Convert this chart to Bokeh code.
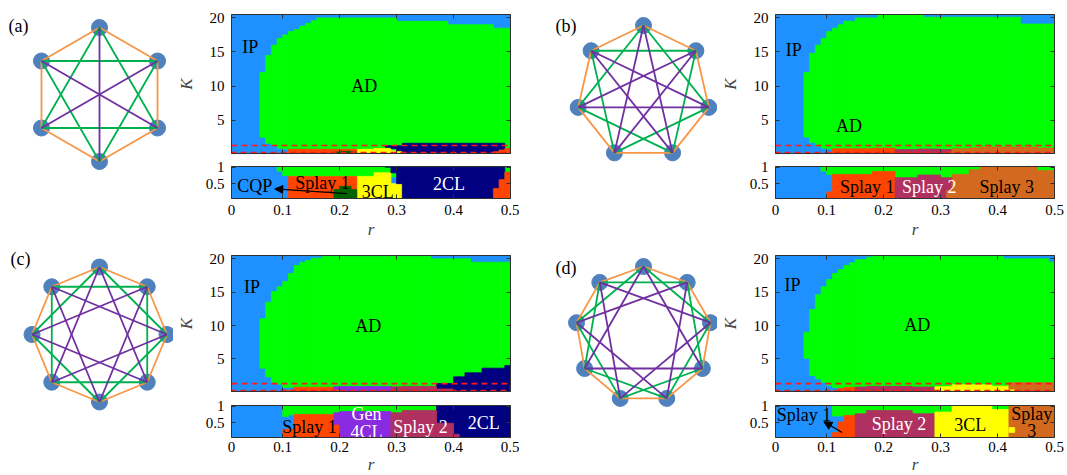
import math
from bokeh.plotting import figure
from bokeh.layouts import row, column
from bokeh.models import Range1d, LinearAxis, FixedTicker, Arrow, NormalHead
from bokeh.core.properties import value
from bokeh.embed import file_html
from bokeh.resources import INLINE

FONT = "Liberation Serif"
AXIS_COLOR = "#303030"

# ---------------- state colours ----------------
COL_IP = "#1E90FF"      # IP / CQP
COL_AD = "#00FF00"      # AD
COL_SPLAY1 = "#FF4500"
COL_SPLAY2 = "#B03060"
COL_SPLAY3 = "#D2691E"
COL_3CL = "#FFFF00"
COL_2CL = "#000080"
COL_DKGREEN = "#006400"
COL_GEN4CL = "#8A2BE2"

# ---------------- axes ----------------
R_RANGE = (0.01, 0.5)
K_UP_RANGE = (0.1, 20.5)
K_LO_RANGE = (0.05, 1.02)
R_TICKS = [0.01, 0.1, 0.2, 0.3, 0.4, 0.5]
R_TICK_LABELS = ["0", "0.1", "0.2", "0.3", "0.4", "0.5"]
K_UP_TICKS = [5, 10, 15, 20]
K_LO_TICKS = [0.5, 1.0]
K_LO_TICK_LABELS = ["0.5", "1"]
ZOOM_BOX_K = (0.25, 1.28)

# ---------------- network diagrams ----------------
RING_SIZES = [6, 7, 8, 9]
EDGE_STEPS = [1, 2, 3]
EDGE_COLORS = ["#F79646", "#00B050", "#7030A0"]
PANEL_TAGS = ["(a)", "(b)", "(c)", "(d)"]

# ---------------- phase regions: (r0, r1, K0, K1) ----------------
# panel (a)
A_AD = [(0.06, 0.07, 2.5, 12.0), (0.07, 0.08, 1.6, 14.5), (0.08, 0.09, 1.3, 16.0),
        (0.09, 0.10, 0.88, 17.0), (0.10, 0.11, 0.75, 17.5), (0.11, 0.12, 0.70, 18.0),
        (0.12, 0.13, 0.70, 18.3), (0.13, 0.14, 0.70, 18.8), (0.14, 0.15, 0.70, 19.2),
        (0.15, 0.16, 0.70, 19.6), (0.16, 0.30, 0.70, 20.0), (0.30, 0.39, 0.90, 19.5),
        (0.39, 0.47, 0.90, 19.0), (0.47, 0.50, 0.85, 18.5)]
A_3CL = [(0.23, 0.26, 0.0, 0.72), (0.26, 0.29, 0.0, 0.83), (0.29, 0.31, 0.0, 0.50)]
A_SPLAY1 = [(0.11, 0.23, 0.0, 0.72)]
A_DKGREEN = [(0.19, 0.23, 0.0, 0.32), (0.20, 0.22, 0.32, 0.42)]
A_2CL = [(0.31, 0.49, 0.0, 1.0), (0.30, 0.31, 0.5, 1.0), (0.29, 0.30, 0.83, 1.0),
         (0.31, 0.49, 1.0, 1.6), (0.28, 0.31, 1.0, 1.25)]
A_SPLAY1_EDGE = [(0.47, 0.48, 0.0, 0.35), (0.48, 0.49, 0.0, 0.62), (0.49, 0.50, 0.0, 0.85)]
A_LABELS_UP = [("IP", 0.043, 15.7), ("AD", 0.243, 10.0)]
A_LABELS_LO = [("CQP", 0.051, 0.43), ("Splay 1", 0.170, 0.53), ("3CL", 0.267, 0.25), ("2CL", 0.392, 0.50)]
A_ARROW = (0.213, 0.20, 0.086, 0.34)

# panel (b)
B_AD = [(0.06, 0.07, 2.5, 12.0), (0.07, 0.08, 1.7, 14.8), (0.08, 0.09, 1.2, 16.0),
        (0.09, 0.10, 0.88, 17.0), (0.10, 0.11, 0.78, 18.0), (0.11, 0.12, 0.5, 18.5),
        (0.12, 0.13, 0.5, 19.0), (0.13, 0.15, 0.5, 19.5), (0.15, 0.19, 0.5, 20.0),
        (0.19, 0.27, 0.5, 20.5), (0.27, 0.44, 0.5, 20.1), (0.44, 0.50, 0.5, 19.1)]
B_SPLAY1 = [(0.11, 0.18, 0.0, 0.78), (0.18, 0.22, 0.0, 0.87), (0.10, 0.11, 0.0, 0.25)]
B_SPLAY2 = [(0.22, 0.26, 0.0, 0.68), (0.26, 0.30, 0.0, 0.76), (0.30, 0.32, 0.30, 0.68),
            (0.30, 0.31, 0.0, 0.30)]
B_SPLAY3 = [(0.31, 0.32, 0.0, 0.30), (0.32, 0.35, 0.0, 0.78), (0.35, 0.37, 0.0, 0.92),
            (0.37, 0.47, 0.0, 1.05), (0.47, 0.50, 0.0, 0.90)]
B_LABELS_UP = [("IP", 0.042, 15.3), ("AD", 0.139, 4.2)]
B_LABELS_LO = [("Splay 1", 0.171, 0.40), ("Splay 2", 0.280, 0.40), ("Splay 3", 0.416, 0.40)]

# panel (c)
C_AD = [(0.06, 0.07, 3.6, 11.0), (0.07, 0.08, 2.3, 13.5), (0.08, 0.09, 1.5, 15.1),
        (0.09, 0.10, 1.2, 15.8), (0.10, 0.11, 0.69, 16.6), (0.11, 0.12, 0.74, 17.8),
        (0.12, 0.13, 0.74, 19.0), (0.13, 0.14, 0.5, 19.5), (0.14, 0.15, 0.5, 19.75),
        (0.15, 0.17, 0.5, 20.1), (0.17, 0.36, 0.5, 20.4), (0.36, 0.43, 0.5, 20.0),
        (0.43, 0.50, 0.5, 19.5)]
C_SPLAY1 = [(0.12, 0.19, 0.0, 0.75), (0.10, 0.12, 0.0, 0.30), (0.19, 0.20, 0.0, 0.45)]
C_GEN4CL = [(0.20, 0.29, 0.0, 0.84), (0.19, 0.20, 0.45, 0.80)]
C_2CL = [(0.37, 0.40, 0.0, 1.3), (0.40, 0.42, 0.0, 2.3), (0.42, 0.45, 0.0, 2.9),
         (0.45, 0.49, 0.0, 3.6), (0.49, 0.50, 0.0, 4.0)]
C_SPLAY2 = [(0.29, 0.31, 0.0, 0.80), (0.31, 0.37, 0.0, 0.87), (0.37, 0.40, 0.0, 0.48),
            (0.40, 0.41, 0.0, 0.15)]
C_LABELS_UP = [("IP", 0.046, 15.8), ("AD", 0.250, 10.0)]
C_LABELS_LO = [("Splay 1", 0.147, 0.36), ("Gen", 0.247, 0.75), ("4CL", 0.247, 0.22),
               ("Splay 2", 0.342, 0.38), ("2CL", 0.453, 0.50)]

# panel (d)
D_AD = [(0.06, 0.07, 5.1, 9.0), (0.07, 0.08, 2.5, 12.4), (0.08, 0.09, 2.0, 14.6),
        (0.09, 0.10, 1.5, 15.8), (0.10, 0.11, 1.05, 16.9), (0.11, 0.12, 0.70, 17.8),
        (0.12, 0.13, 0.70, 18.4), (0.13, 0.14, 0.5, 19.0), (0.14, 0.15, 0.5, 19.4),
        (0.15, 0.17, 0.5, 19.9), (0.17, 0.18, 0.5, 20.25), (0.18, 0.41, 0.5, 20.4),
        (0.41, 0.49, 0.5, 20.0), (0.49, 0.50, 0.5, 19.5)]
D_SPLAY1 = [(0.13, 0.15, 0.0, 0.72), (0.12, 0.13, 0.0, 0.52), (0.11, 0.12, 0.0, 0.20)]
D_SPLAY2 = [(0.15, 0.17, 0.0, 0.77), (0.17, 0.25, 0.0, 0.87), (0.25, 0.29, 0.0, 0.77)]
D_3CL = [(0.29, 0.32, 0.0, 0.82), (0.32, 0.39, 0.0, 1.10), (0.39, 0.42, 0.0, 0.90)]
D_SPLAY3 = [(0.42, 0.50, 0.0, 1.40)]
D_3CL_BIT = [(0.42, 0.43, 0.20, 0.35)]
D_LABELS_UP = [("IP", 0.040, 16.1), ("AD", 0.259, 10.1)]
D_LABELS_LO = [("Splay 1", 0.060, 0.72), ("Splay 2", 0.227, 0.46), ("3CL", 0.352, 0.43),
               ("Splay", 0.460, 0.76), ("3", 0.460, 0.25)]
D_ARROW = (0.127, 0.20, 0.095, 0.53)

WHITE_TEXT = {"2CL", "Splay 2", "Gen", "4CL"}


def style_axis(ax, show, size="15px"):
    ax.major_tick_in = 4
    ax.major_tick_out = 0
    ax.minor_tick_line_color = None
    ax.major_tick_line_color = AXIS_COLOR
    ax.axis_line_color = AXIS_COLOR
    ax.axis_line_width = 1
    ax.major_label_text_font = FONT
    if show:
        ax.major_label_text_color = "black"
        ax.major_label_text_font_size = size
        ax.major_label_standoff = 7
    else:
        ax.major_label_text_color = None
        ax.major_label_text_font_size = "1px"
        ax.major_label_standoff = 0


def phase_fig(krange, fh, kticks, klabels, top_b, bot_b, right_b, ylabel, show_x, x_standoffs=(6, 2)):
    p = figure(frame_width=279, frame_height=fh,
               x_range=Range1d(*R_RANGE), y_range=Range1d(*krange),
               min_border_left=58, min_border_right=right_b,
               min_border_top=top_b, min_border_bottom=bot_b,
               x_axis_location=None, y_axis_location=None,
               output_backend="svg", toolbar_location=None,
               background_fill_color=COL_IP, border_fill_color="white")
    p.grid.visible = False
    p.outline_line_color = None
    xov = {t: l for t, l in zip(R_TICKS, R_TICK_LABELS)}
    for loc in ("below", "above"):
        ax = LinearAxis(ticker=FixedTicker(ticks=R_TICKS))
        shown = show_x and loc == "below"
        style_axis(ax, shown)
        if shown:
            ax.major_label_overrides = xov
            ax.major_label_standoff = x_standoffs[0]
            ax.axis_label = "r"
            ax.axis_label_text_font = FONT
            ax.axis_label_text_font_style = "italic"
            ax.axis_label_text_font_size = "17px"
            ax.axis_label_standoff = x_standoffs[1]
        p.add_layout(ax, loc)
    for loc in ("left", "right"):
        ax = LinearAxis(ticker=FixedTicker(ticks=kticks))
        shown = loc == "left"
        style_axis(ax, shown)
        if shown and klabels:
            ax.major_label_overrides = {t: l for t, l in zip(kticks, klabels)}
        if shown and ylabel:
            ax.axis_label = ylabel
            ax.axis_label_text_font = FONT
            ax.axis_label_text_font_style = "italic"
            ax.axis_label_text_font_size = "17px"
            ax.axis_label_standoff = 11
        p.add_layout(ax, loc)
    return p


def add_rects(p, rects, color):
    p.quad(left=[q[0] for q in rects], right=[q[1] for q in rects],
           bottom=[q[2] for q in rects], top=[q[3] for q in rects],
           fill_color=color, line_color=color, line_width=0.8)


def add_labels(p, labels):
    p.text(x=[l[1] for l in labels], y=[l[2] for l in labels], text=[l[0] for l in labels],
           text_color=["white" if l[0] in WHITE_TEXT else "black" for l in labels],
           text_font=value(FONT), text_font_size="18px",
           text_align="center", text_baseline="middle")


def add_arrow(p, arr):
    p.add_layout(Arrow(end=NormalHead(size=8, fill_color="black", line_color="black", line_width=1),
                       x_start=arr[0], y_start=arr[1], x_end=arr[2], y_end=arr[3],
                       line_color="black", line_width=1.3))


def phase_panel(layers, lab_up, lab_lo, arrow, up_top, up_h, lo_top, lo_h, lo_bot, right_b, x_standoffs):
    up = phase_fig(K_UP_RANGE, up_h, K_UP_TICKS, None, up_top, 6, right_b, "K", False)
    lo = phase_fig(K_LO_RANGE, lo_h, K_LO_TICKS, K_LO_TICK_LABELS, lo_top, lo_bot, right_b, None, True,
                   x_standoffs)
    for f in (up, lo):
        for rects, color in layers:
            add_rects(f, rects, color)
    up.quad(left=[R_RANGE[0]], right=[R_RANGE[1]], bottom=[ZOOM_BOX_K[0]], top=[ZOOM_BOX_K[1]],
            fill_color=None, line_color="#FF1A1A", line_dash="6 4", line_width=1.6)
    add_labels(up, lab_up)
    add_labels(lo, lab_lo)
    if arrow:
        add_arrow(lo, arrow)
    return column(up, lo)


def graph_fig(n, tag, W, H, cx, cy, R, lx, ly):
    p = figure(width=W, height=H, x_range=Range1d(-cx, W - cx), y_range=Range1d(cy - H, cy),
               min_border=0, x_axis_location=None, y_axis_location=None,
               output_backend="svg", toolbar_location=None)
    p.grid.visible = False
    p.outline_line_color = None
    ang = [math.pi / 2 - 2 * math.pi * k / n for k in range(n)]
    xs = [R * math.cos(a) for a in ang]
    ys = [R * math.sin(a) for a in ang]
    p.scatter(xs, ys, size=16, fill_color="#4F81BD", line_color="#4F81BD")
    for step, col in zip(EDGE_STEPS, EDGE_COLORS):
        pairs = sorted({tuple(sorted((k, (k + step) % n))) for k in range(n)})
        p.segment(x0=[xs[i] for i, j in pairs], y0=[ys[i] for i, j in pairs],
                  x1=[xs[j] for i, j in pairs], y1=[ys[j] for i, j in pairs],
                  line_color=col, line_width=1.8)
    p.text(x=[lx], y=[ly], text=[tag], text_font=value(FONT), text_font_size="18px",
           text_align="left", text_baseline="middle", text_color="black")
    return p


# row 1: 14+139+6 + 7+32+40 = 238 ; row 2: 14+136+6 + 8+32+37 = 233
ga = graph_fig(RING_SIZES[0], PANEL_TAGS[0], 173, 238, 99, 94, 67, -91, 69)
gb = graph_fig(RING_SIZES[1], PANEL_TAGS[1], 198, 238, 124, 92, 67, -88, 67)
gc = graph_fig(RING_SIZES[2], PANEL_TAGS[2], 173, 233, 99, 93, 67.5, -89, 76)
gd = graph_fig(RING_SIZES[3], PANEL_TAGS[3], 198, 233, 124, 93, 68, -88, 67)

pa = phase_panel([(A_AD, COL_AD), (A_3CL, COL_3CL), (A_SPLAY1, COL_SPLAY1), (A_DKGREEN, COL_DKGREEN),
                  (A_2CL, COL_2CL), (A_SPLAY1_EDGE, COL_SPLAY1)],
                 A_LABELS_UP, A_LABELS_LO, A_ARROW, 14, 139, 7, 32, 40, 9, (6, 2))
pb = phase_panel([(B_AD, COL_AD), (B_SPLAY1, COL_SPLAY1), (B_SPLAY2, COL_SPLAY2), (B_SPLAY3, COL_SPLAY3)],
                 B_LABELS_UP, B_LABELS_LO, None, 14, 139, 7, 32, 40, 10, (6, 2))
pc = phase_panel([(C_AD, COL_AD), (C_SPLAY1, COL_SPLAY1), (C_GEN4CL, COL_GEN4CL), (C_2CL, COL_2CL),
                  (C_SPLAY2, COL_SPLAY2)],
                 C_LABELS_UP, C_LABELS_LO, None, 14, 136, 8, 32, 37, 9, (4, 0))
pd_ = phase_panel([(D_AD, COL_AD), (D_SPLAY1, COL_SPLAY1), (D_SPLAY2, COL_SPLAY2), (D_3CL, COL_3CL),
                   (D_SPLAY3, COL_SPLAY3), (D_3CL_BIT, COL_3CL)],
                  D_LABELS_UP, D_LABELS_LO, D_ARROW, 14, 136, 8, 32, 37, 10, (4, 0))

layout = column(row(ga, pa, gb, pb), row(gc, pc, gd, pd_))
open("out.html", "w").write(file_html(layout, INLINE))
